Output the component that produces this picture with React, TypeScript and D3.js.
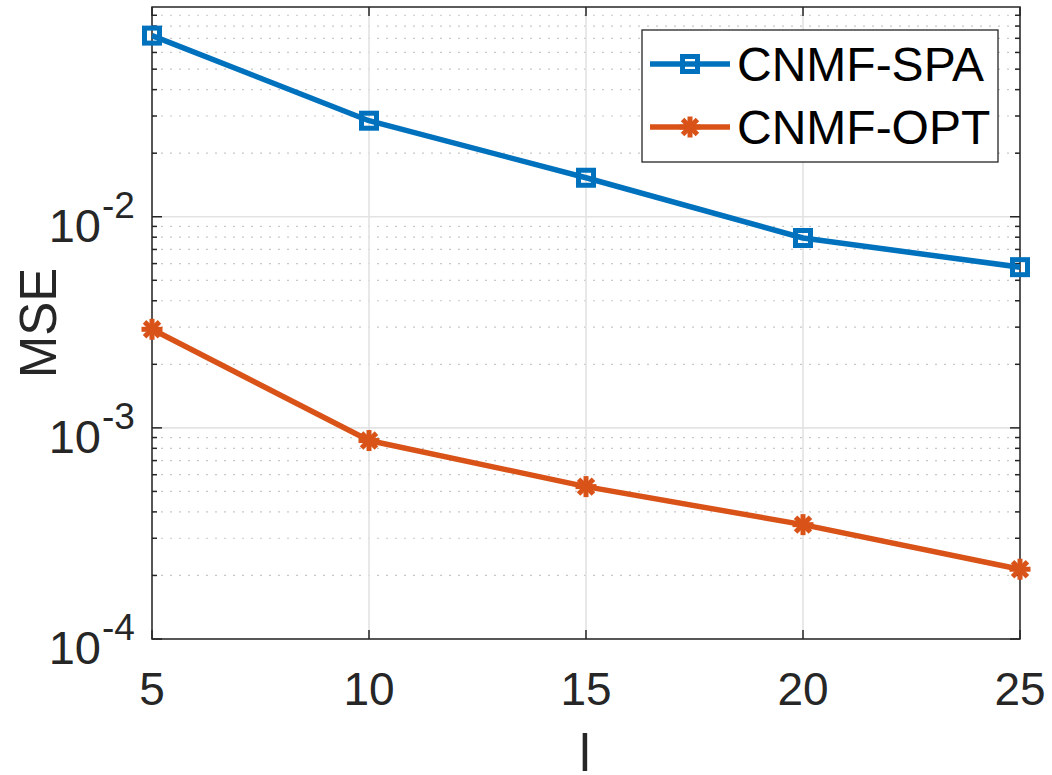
import React from "react";
import * as d3 from "d3";

const xValues = [5, 10, 15, 20, 25];
const spaValues = [0.0721, 0.0285, 0.0153, 0.00793, 0.00577];
const optValues = [0.00293, 0.000871, 0.000527, 0.000348, 0.000214];
const xTickLabels = ["5", "10", "15", "20", "25"];
const yTickExponents = [-4, -3, -2];
const seriesNames = ["CNMF-SPA", "CNMF-OPT"];

const W = 1052;
const H = 775;
const left = 152;
const right = 1020;
const top = 7;
const bottom = 639;
const FONT = "'Liberation Sans', Arial, Helvetica, sans-serif";
const BLUE = "#0072BD";
const ORANGE = "#D95319";
const AX = "#262626";

function Star({ cx, cy, r, color }: { cx: number; cy: number; r: number; color: string }) {
  const angles = [0, 45, 90, 135];
  return (
    <g stroke={color} strokeWidth={5} strokeLinecap="butt">
      {angles.map((a) => {
        const rad = (a * Math.PI) / 180;
        const dx = Math.cos(rad) * r;
        const dy = Math.sin(rad) * r;
        return <line key={a} x1={cx - dx} y1={cy - dy} x2={cx + dx} y2={cy + dy} />;
      })}
    </g>
  );
}

function Square({ cx, cy, s, color }: { cx: number; cy: number; s: number; color: string }) {
  return (
    <rect x={cx - s / 2} y={cy - s / 2} width={s} height={s} fill="none" stroke={color} strokeWidth={5} />
  );
}

export default function App() {
  const x = d3.scaleLinear().domain([5, 25]).range([left, right]);
  const y = d3.scaleLog().domain([1e-4, 0.0985]).range([bottom, top]);

  const majors = [1e-4, 1e-3, 1e-2];
  const minors: number[] = [];
  for (let e = -4; e <= -2; e++) {
    for (let m = 2; m <= 9; m++) {
      const v = m * Math.pow(10, e);
      if (v <= 0.0985) minors.push(v);
    }
  }

  const line = d3
    .line<number>()
    .x((_, i) => x(xValues[i]))
    .y((d) => y(d));

  return (
    <svg width={W} height={H} style={{ position: "absolute", left: 0, top: 0, background: "#fff" }} fontFamily={FONT}>
      <rect x={0} y={0} width={W} height={H} fill="#fff" />
      {/* minor grid */}
      {minors.map((v) => (
        <line key={"mg" + v} x1={left} x2={right} y1={y(v)} y2={y(v)} stroke="#c8c8c8" strokeWidth={1.2} strokeDasharray="2 7" />
      ))}
      {/* major grid */}
      {majors.map((v) => (
        <line key={"Mg" + v} x1={left} x2={right} y1={y(v)} y2={y(v)} stroke="#e3e3e3" strokeWidth={1.6} />
      ))}
      {xValues.map((v) => (
        <line key={"xg" + v} x1={x(v)} x2={x(v)} y1={top} y2={bottom} stroke="#e3e3e3" strokeWidth={1.6} />
      ))}
      {/* axes box */}
      <rect x={left} y={top} width={right - left} height={bottom - top} fill="none" stroke={AX} strokeWidth={1.5} />
      {/* y ticks */}
      {majors.map((v) => (
        <g key={"yt" + v} stroke={AX} strokeWidth={1.5}>
          <line x1={left} x2={left + 10} y1={y(v)} y2={y(v)} />
          <line x1={right} x2={right - 10} y1={y(v)} y2={y(v)} />
        </g>
      ))}
      {minors.map((v) => (
        <g key={"ymt" + v} stroke={AX} strokeWidth={1.5}>
          <line x1={left} x2={left + 5} y1={y(v)} y2={y(v)} />
          <line x1={right} x2={right - 5} y1={y(v)} y2={y(v)} />
        </g>
      ))}
      {/* x ticks */}
      {xValues.map((v) => (
        <g key={"xt" + v} stroke={AX} strokeWidth={1.5}>
          <line x1={x(v)} x2={x(v)} y1={bottom} y2={bottom - 9} />
          <line x1={x(v)} x2={x(v)} y1={top} y2={top + 9} />
        </g>
      ))}
      {/* x tick labels */}
      {xValues.map((v, i) => (
        <text key={"xl" + v} x={x(v)} y={705} textAnchor="middle" fontSize={46} fill={AX}>
          {xTickLabels[i]}
        </text>
      ))}
      {/* y tick labels */}
      {yTickExponents.map((e) => {
        const yy = y(Math.pow(10, e));
        return (
          <g key={"yl" + e} fill={AX}>
            <text x={101} y={yy + 25} textAnchor="end" fontSize={47}>
              10
            </text>
            <text x={102} y={yy + 1} textAnchor="start" fontSize={37}>
              {String(e)}
            </text>
          </g>
        );
      })}
      {/* axis labels */}
      <text x={585} y={771} textAnchor="middle" fontSize={51} fill={AX}>
        l
      </text>
      <text transform={`translate(56,323) rotate(-90)`} textAnchor="middle" fontSize={51} fill={AX}>
        MSE
      </text>
      {/* lines */}
      <path d={line(spaValues) || ""} fill="none" stroke={BLUE} strokeWidth={5.5} strokeLinejoin="round" />
      <path d={line(optValues) || ""} fill="none" stroke={ORANGE} strokeWidth={5.5} strokeLinejoin="round" />
      {spaValues.map((v, i) => (
        <Square key={"s" + i} cx={x(xValues[i])} cy={y(v)} s={15} color={BLUE} />
      ))}
      {optValues.map((v, i) => (
        <Star key={"o" + i} cx={x(xValues[i])} cy={y(v)} r={10.5} color={ORANGE} />
      ))}
      {/* legend */}
      <rect x={642} y={30} width={356} height={132} fill="#fff" stroke={AX} strokeWidth={1.3} />
      <line x1={650} x2={730} y1={64} y2={64} stroke={BLUE} strokeWidth={5.5} />
      <Square cx={690} cy={64} s={15} color={BLUE} />
      <text x={737} y={81} fontSize={48} fill="#000">
        {seriesNames[0]}
      </text>
      <line x1={650} x2={730} y1={127} y2={127} stroke={ORANGE} strokeWidth={5.5} />
      <Star cx={690} cy={127} r={10.5} color={ORANGE} />
      <text x={737} y={144} fontSize={48} fill="#000">
        {seriesNames[1]}
      </text>
    </svg>
  );
}
